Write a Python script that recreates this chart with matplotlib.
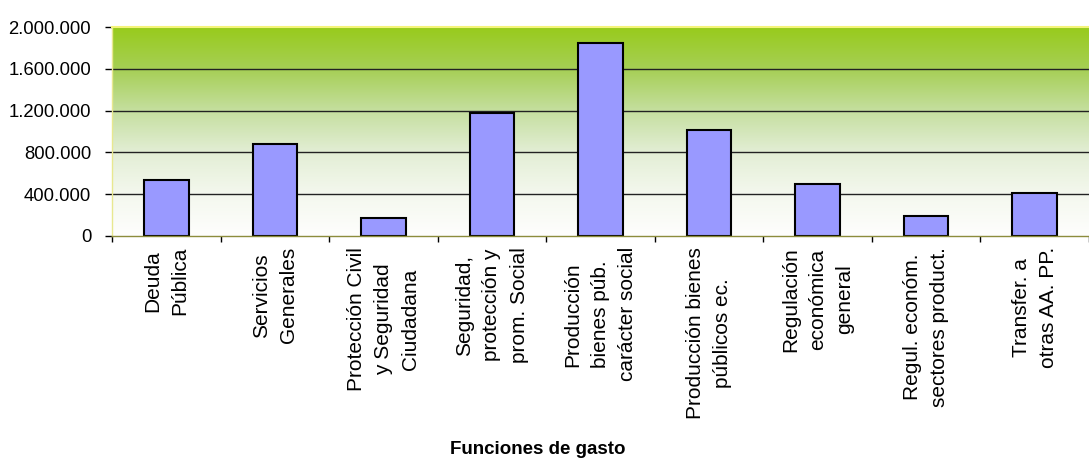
import matplotlib.pyplot as plt
import numpy as np
from matplotlib.colors import LinearSegmentedColormap
from matplotlib.ticker import FuncFormatter, FixedLocator

plt.rcParams["font.family"] = ["Liberation Sans", "DejaVu Sans"]

# Funciones de gasto
categorias = [
    "Deuda\nPública",
    "Servicios\nGenerales",
    "Protección Civil\ny Seguridad\nCiudadana",
    "Seguridad,\nprotección y\nprom. Social",
    "Producción\nbienes púb.\ncarácter social",
    "Producción bienes\npúblicos ec.",
    "Regulación\neconómica\ngeneral",
    "Regul. económ.\nsectores product.",
    "Transfer. a\notras AA. PP.",
]
valores = [536000, 880000, 175000, 1180000, 1850000, 1014000, 500000, 194000, 408000]
y_ticks = [0, 400000, 800000, 1200000, 1600000, 2000000]

fig = plt.figure(figsize=(10.89, 4.62), dpi=100)
ax = fig.add_axes([112 / 1089, 1 - 236 / 462, 1 - 112 / 1089, 209 / 462])

x = np.arange(len(categorias))
x_lim = (-0.5, 8.38)

# fondo degradado verde -> blanco
cmap = LinearSegmentedColormap.from_list(
    "fondo",
    [(0.0, "#FEFEFD"), (0.2, "#F4F8EE"), (0.4, "#E3EED5"),
     (0.6, "#C5DF9F"), (0.8, "#A6CF55"), (1.0, "#98CB1C")],
)
grad = np.linspace(0, 1, 256).reshape(-1, 1)
ax.imshow(grad, cmap=cmap, aspect="auto", origin="lower",
          extent=[x_lim[0], x_lim[1] + 1, 0, 2000000], zorder=0)

for y in y_ticks[1:-1]:
    ax.axhline(y, color="#222222", lw=1.0, zorder=1)

ax.bar(x, valores, width=0.41, color="#9999FF", edgecolor="black",
       linewidth=1.5, zorder=2)

ax.set_xlim(*x_lim)
ax.set_ylim(0, 2000000)

ax.spines["right"].set_visible(False)
ax.spines["top"].set_color("#F4F47A")
ax.spines["top"].set_linewidth(1.5)
ax.spines["left"].set_color("#E8E890")
ax.spines["left"].set_linewidth(1.0)
ax.spines["bottom"].set_color("#8C8C3C")
ax.spines["bottom"].set_linewidth(1.0)

ax.yaxis.set_major_locator(FixedLocator(y_ticks))
ax.yaxis.set_major_formatter(
    FuncFormatter(lambda v, p: f"{int(v):,}".replace(",", "."))
)
ax.tick_params(axis="y", length=5, width=1, color="black", pad=10, labelsize=13.3)

# marcas del eje x entre categorias, etiquetas en el centro
ax.set_xticks(np.arange(-0.5, 9.0, 1.0))
ax.set_xticklabels([])
ax.tick_params(axis="x", length=4.5, width=1, color="black")
ax.set_xticks(x, minor=True)
ax.set_xticklabels(categorias, minor=True, rotation=90, fontsize=15,
                   ha="center", va="top", multialignment="center",
                   linespacing=1.55)
ax.tick_params(axis="x", which="minor", length=0, pad=8)

fig.text(538 / 1089, 1 - 450 / 462, "Funciones de gasto", ha="center",
         va="center", fontsize=13.5, fontweight="bold")

fig.savefig("out.png", dpi=100)
